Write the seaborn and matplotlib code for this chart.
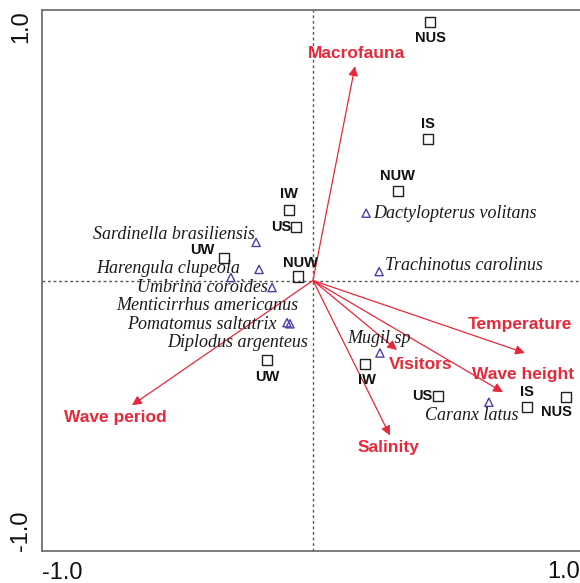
import matplotlib
matplotlib.use("Agg")
import matplotlib.pyplot as plt
import seaborn as sns
import pandas as pd

# Site scores (squares)
site_names = ["NUS", "IS", "NUW", "IW", "US", "UW", "NUW", "UW", "IW", "US", "IS", "NUS"]
site_x = [0.432, 0.424, 0.314, -0.089, -0.063, -0.328, -0.055, -0.170, 0.192, 0.461, 0.790, 0.934]
site_y = [0.955, 0.524, 0.331, 0.260, 0.197, 0.082, 0.015, -0.294, -0.309, -0.428, -0.468, -0.431]

# Species scores (triangles)
species_names = ["Dactylopterus volitans", "Trachinotus carolinus", "Sardinella brasiliensis",
                 "Harengula clupeola", "Umbrina coroides", "Menticirrhus americanus",
                 "Pomatomus saltatrix", "Diplodus argenteus", "Mugil sp", "Caranx latus"]
species_x = [0.196, 0.244, -0.210, -0.199, -0.151, -0.303, -0.096, -0.085, 0.247, 0.649]
species_y = [0.249, 0.033, 0.141, 0.041, -0.026, 0.011, -0.156, -0.160, -0.268, -0.450]

# Environmental variable vectors
env_names = ["Macrofauna", "Temperature", "Visitors", "Wave height", "Salinity", "Wave period"]
env_x = [0.155, 0.782, 0.310, 0.701, 0.284, -0.668]
env_y = [0.792, -0.268, -0.257, -0.413, -0.573, -0.461]

# Axis ticks
tick_values = [-1.0, -0.5, 0.0, 0.5, 1.0]
tick_labels = ["-1.0", "", "", "", "1.0"]

# Label placement (data units) and alignment
site_label_pos = [(0.432, 0.896, "center"), (0.424, 0.580, "center"), (0.310, 0.387, "center"),
                  (-0.089, 0.320, "center"), (-0.078, 0.197, "right"), (-0.410, 0.112, "center"),
                  (-0.048, 0.064, "center"), (-0.170, -0.357, "center"), (0.200, -0.368, "center"),
                  (0.440, -0.428, "right"), (0.790, -0.413, "center"), (0.900, -0.487, "center")]
species_label_pos = [(0.221, 0.249, "left"), (0.266, 0.056, "left"), (-0.214, 0.171, "right"),
                     (-0.269, 0.045, "right"), (-0.166, -0.026, "right"), (-0.055, -0.093, "right"),
                     (-0.133, -0.164, "right"), (-0.018, -0.230, "right"), (0.125, -0.216, "left"),
                     (0.413, -0.498, "left")]
env_label_pos = [(0.162, 0.840), (0.764, -0.164), (0.399, -0.309), (0.775, -0.346),
                 (0.277, -0.617), (-0.731, -0.506)]

sns.set_style("white")
plt.rcParams["font.family"] = ["Liberation Sans", "DejaVu Sans"]

RED = "#e8283a"
BLUE = "#4b3fae"

fig = plt.figure(figsize=(5.80, 5.83), dpi=100)
ax = fig.add_axes([42 / 580, 1 - 551 / 583, 542 / 580, 541 / 583])

sites = pd.DataFrame({"x": site_x, "y": site_y, "name": site_names})
species = pd.DataFrame({"x": species_x, "y": species_y, "name": species_names})

ax.axhline(0, color="#555555", lw=1.0, ls=(0, (2, 2)), zorder=1)
ax.axvline(0, color="#555555", lw=1.0, ls=(0, (2, 2)), zorder=1)

for name, ex, ey, (lx, ly) in zip(env_names, env_x, env_y, env_label_pos):
    ax.annotate("", xy=(ex, ey), xytext=(0, 0),
                arrowprops=dict(arrowstyle="-|>", color=RED, lw=0.9,
                                mutation_scale=14, shrinkA=0, shrinkB=0),
                zorder=2)
    ax.text(lx, ly, name, color=RED, fontsize=12.5, fontweight="bold",
            ha="center", va="center", zorder=4)

sns.scatterplot(data=sites, x="x", y="y", marker="s", s=55, facecolors="none",
                edgecolors="#222222", linewidth=1.0, ax=ax, zorder=3)
sns.scatterplot(data=species, x="x", y="y", marker="^", s=35, facecolors="none",
                edgecolors=BLUE, linewidth=1.0, ax=ax, zorder=3)

for name, (lx, ly, ha) in zip(site_names, site_label_pos):
    ax.text(lx, ly, name, fontsize=10.5, fontweight="bold", color="#111111",
            ha=ha, va="center", zorder=4)

for name, (lx, ly, ha) in zip(species_names, species_label_pos):
    ax.text(lx, ly, name, fontsize=13, fontstyle="italic", color="#1a1a1a",
            family="Liberation Serif", ha=ha, va="center", zorder=4)

ax.set_xlim(-1.0, 1.0)
ax.set_ylim(-1.0, 1.0)
ax.set_xticks(tick_values)
ax.set_yticks(tick_values)
# the right end of the x axis sits at the figure edge; its label is drawn
# just inside so that it stays readable
ax.set_xticklabels(tick_labels[:-1] + [""], fontsize=17)
ax.annotate(tick_labels[-1], xy=(tick_values[-1], 0), xycoords=ax.get_xaxis_transform(),
            xytext=(-3, -7.5), textcoords="offset points", ha="right", va="top",
            fontsize=17, color="#111111", annotation_clip=False)
ax.set_yticklabels(tick_labels, fontsize=17, rotation=90)
ax.get_xticklabels()[0].set_ha("left")
yl = ax.get_yticklabels()
yl[0].set_va("bottom")
yl[-1].set_va("top")
ax.tick_params(axis="both", direction="out", length=4, width=1, color="#555555",
               labelcolor="#111111", pad=4)
ax.tick_params(axis="y", pad=3)
ax.set_xlabel("")
ax.set_ylabel("")
for side in ["top", "left", "bottom", "right"]:
    ax.spines[side].set_color("#666666")
    ax.spines[side].set_linewidth(1.2)

fig.savefig("out.png", dpi=100)
